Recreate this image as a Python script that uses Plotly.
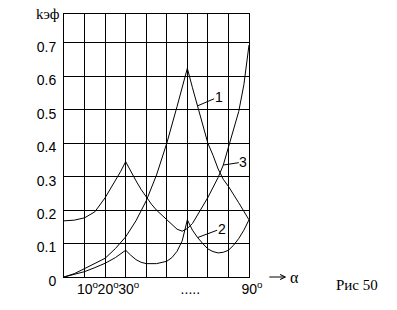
import plotly.graph_objects as go

# ---- data ----
angles_1 = [0, 5, 10, 15, 20, 25, 30, 35, 40, 45, 50, 55, 60, 62.5, 65, 67.5, 70,
            72.5, 75, 77.5, 80, 85, 90]
k_1 = [0, 0.01, 0.025, 0.04, 0.056, 0.085, 0.12, 0.168, 0.228, 0.305, 0.4, 0.51,
       0.624, 0.566, 0.512, 0.457, 0.4, 0.364, 0.323, 0.292, 0.271, 0.222, 0.171]

angles_2 = [0, 5, 10, 15, 20, 25, 27.5, 30, 32.5, 35, 37.5, 40, 45, 50, 52.5, 55,
            57.5, 60, 62.5, 65, 67.5, 70, 72.5, 75, 77.5, 80, 82.5, 85, 87.5, 90]
k_2 = [0, 0.007, 0.016, 0.028, 0.041, 0.058, 0.068, 0.08, 0.065, 0.052, 0.044, 0.04,
       0.04, 0.047, 0.058, 0.077, 0.108, 0.171, 0.14, 0.118, 0.1, 0.084, 0.076,
       0.072, 0.074, 0.08, 0.095, 0.115, 0.14, 0.171]

angles_3 = [0, 5, 10, 15, 20, 22.5, 25, 27.5, 30, 32.5, 35, 37.5, 40, 42.5, 45, 47.5,
            50, 52.5, 55, 57.5, 60, 62.5, 65, 67.5, 70, 72.5, 75, 77.5, 80, 82.5, 85,
            87.5, 90]
k_3 = [0.168, 0.17, 0.177, 0.195, 0.237, 0.262, 0.287, 0.315, 0.345, 0.315, 0.288,
       0.262, 0.238, 0.218, 0.2, 0.185, 0.172, 0.155, 0.143, 0.137, 0.145, 0.16,
       0.188, 0.212, 0.238, 0.268, 0.298, 0.335, 0.39, 0.44, 0.495, 0.575, 0.694]

x_grid_step = 10
x_tick_vals = [10, 20, 30, 60, 90]
x_tick_text = ["10<sup>o</sup>", "20<sup>o</sup>", "30<sup>o</sup>", ".....",
               "90<sup>o</sup>"]
y_tick_vals = [0, 0.1, 0.2, 0.3, 0.4, 0.5, 0.6, 0.7]
y_tick_text = ["0", "0.1", "0.2", "0.3", "0.4", "0.5", "0.6", "0.7"]

curve_labels = ["1", "2", "3"]
label_angles = [65, 65, 77.5]

y_title = "kэф"
x_title = "α"
caption = "Рис 50"

# ---- figure ----
series = [(angles_1, k_1), (angles_2, k_2), (angles_3, k_3)]
fig = go.Figure()
for a, k in series:
    fig.add_trace(go.Scatter(x=a, y=k, mode="lines",
                             line=dict(color="black", width=1),
                             hoverinfo="skip", showlegend=False))

sans = "Liberation Sans"
serif = "Liberation Serif"

fig.update_layout(
    width=397, height=310,
    margin=dict(l=64, r=148, t=14, b=33, pad=0),
    paper_bgcolor="white", plot_bgcolor="white",
    showlegend=False,
)
fig.update_xaxes(
    range=[0, 90], tickvals=x_tick_vals, ticktext=x_tick_text,
    showgrid=True, gridcolor="black", gridwidth=1,
    minor=dict(tickmode="linear", tick0=0, dtick=x_grid_step, showgrid=True,
               gridcolor="black", gridwidth=1, ticks=""),
    showline=True, linecolor="black", linewidth=1, mirror=True,
    zeroline=False, ticks="", tickangle=0, ticklabelshift=3, ticklabelstandoff=-1,
    tickfont=dict(family=sans, size=14, color="black"),
)
fig.update_yaxes(
    range=[0, 0.7867], tickvals=y_tick_vals, ticktext=y_tick_text,
    showgrid=True, gridcolor="black", gridwidth=1,
    showline=True, linecolor="black", linewidth=1, mirror=True,
    zeroline=False, ticks="", ticklabelshift=4, ticklabelstandoff=4,
    tickfont=dict(family=sans, size=14, color="black"),
)

# curve number labels with pointer lines
offsets = [(21, -9), (24, -9), (20, -3)]
for (a, k), lab, ang, (dx, dy) in zip(series, curve_labels, label_angles, offsets):
    val = k[a.index(ang)]
    fig.add_annotation(x=ang, y=val, xref="x", yref="y", text=lab,
                       showarrow=True, arrowhead=0, arrowwidth=1, arrowcolor="black",
                       ax=dx, ay=dy, standoff=0, borderpad=0,
                       font=dict(family=sans, size=14, color="black"))

# y-axis title at top
fig.add_annotation(x=0, y=1, xref="paper", yref="paper", text=y_title,
                   showarrow=False, xanchor="right", yanchor="middle",
                   xshift=-2, yshift=0,
                   font=dict(family=serif, size=15, color="black"))
# x-axis arrow with alpha at its head
fig.add_annotation(x=1.11, y=0, xref="paper", yref="paper", text=x_title,
                   showarrow=True, arrowside="start", arrowhead=5, startarrowhead=5,
                   startarrowsize=1, arrowwidth=1, arrowcolor="black",
                   ax=25, ay=0, standoff=0, startstandoff=3, borderpad=0,
                   font=dict(family=serif, size=16, color="black"))
# caption
fig.add_annotation(x=1.582, y=-0.03, xref="paper", yref="paper", text=caption,
                   showarrow=False, xanchor="center", yanchor="middle",
                   font=dict(family=serif, size=15, color="black"))

fig.write_html("out.html")
